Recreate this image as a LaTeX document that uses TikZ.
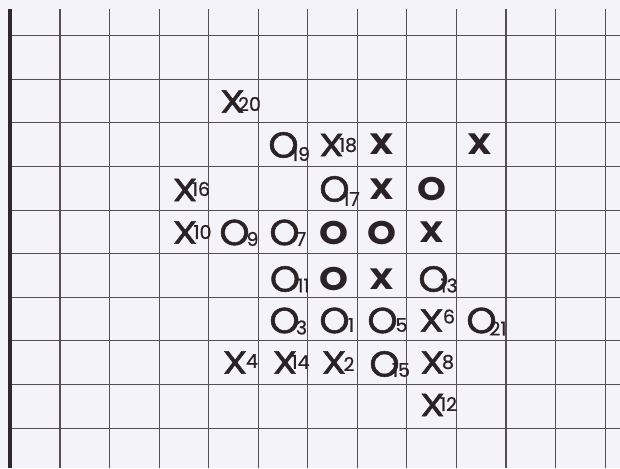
\documentclass[tikz,border=0pt]{standalone}
\usepackage{graphicx}
\usepackage{fontspec}
\setmainfont{Poppins}
\newfontfamily\markfont{Poppins}[FakeBold=1.4]
\newfontfamily\numfont{Poppins}[FakeBold=0.6]
\definecolor{paper}{HTML}{F4F3F9}
\definecolor{gridc}{HTML}{574C59}
\definecolor{borderc}{HTML}{32262E}
\definecolor{ink}{HTML}{2B2226}
\newcommand{\mX}{\scalebox{1.25}[1]{X}}
\newcommand{\mO}{\scalebox{1.2}[1.13]{O}}
\newcommand{\bX}{\scalebox{1.08}[0.92]{X}}
\newcommand{\bO}{\scalebox{1.15}[1.02]{O}}
\begin{document}
\begin{tikzpicture}[x=1pt,y=-1pt,
  gridline/.style={draw=gridc,line width=1.1pt},
  borderline/.style={draw=borderc,line width=4pt},
  mk/.style={inner sep=0pt,text=ink,font=\markfont\fontsize{32}{32}\selectfont},
  bmk/.style={inner sep=0pt,text=ink,font=\fontsize{32}{32}\selectfont\bfseries},
  num/.style={inner sep=0pt,text=ink,font=\numfont\fontsize{19}{19}\selectfont}]
\fill[paper] (0,0) rectangle (620,468);
\useasboundingbox (0,0) rectangle (620,468);
% grid
\foreach \k in {0,...,11} \draw[gridline] ({60+49.55*\k},9) -- ({60+49.55*\k},468);
\foreach \k in {0,...,9} \draw[gridline] (10,{35.7+43.6*\k}) -- (620,{35.7+43.6*\k});
\draw[borderline] (10,9) -- (10,468);
% row 2
\node[mk] (x20) at (232.5,101.5) {\mX};
\node[num] (x20n) at (249.5,104) {20};
% row 3
\node[mk] (o19) at (283.5,145) {\mO};
\node[num] (o19n) at (301,154) {19};
\node[mk] (x18) at (331.5,145) {\mX};
\node[num] (x18n) at (348,145) {18};
\node[bmk] (xa) at (381.5,144) {\bX};
\node[bmk] (xb) at (480,144) {\bX};
% row 4
\node[mk] (x16) at (185,190) {\mX};
\node[num] (x16n) at (201,189) {16};
\node[mk] (o17) at (334.5,189) {\mO};
\node[num] (o17n) at (351.5,199) {17};
\node[bmk] (xc) at (381.5,189) {\bX};
\node[bmk] (oa) at (431.5,189) {\bO};
% row 5
\node[mk] (x10) at (185,232.5) {\mX};
\node[num] (x10n) at (202.5,232) {10};
\node[mk] (o9) at (234.5,232.5) {\mO};
\node[num] (o9n) at (252.5,239) {9};
\node[mk] (o7) at (284.5,232.5) {\mO};
\node[num] (o7n) at (301,239) {7};
\node[bmk] (ob) at (333.5,232.5) {\bO};
\node[bmk] (oc) at (381.5,232.5) {\bO};
\node[bmk] (xd) at (431.5,232.5) {\bX};
% row 6
\node[mk] (o11) at (285,279) {\mO};
\node[num] (o11n) at (303.5,285.5) {11};
\node[bmk] (od) at (333.5,279) {\bO};
\node[bmk] (xe) at (381.5,279) {\bX};
\node[mk] (o13) at (433.5,279) {\mO};
\node[num] (o13n) at (449,285.5) {13};
% row 7
\node[mk] (o3) at (284.5,320.5) {\mO};
\node[num] (o3n) at (301.5,327.5) {3};
\node[mk] (o1) at (334.5,320.5) {\mO};
\node[num] (o1n) at (351,325) {1};
\node[mk] (o5) at (382.5,320.5) {\mO};
\node[num] (o5n) at (401.5,325) {5};
\node[mk] (x6) at (431.5,320.5) {\mX};
\node[num] (x6n) at (449,316.5) {6};
\node[mk] (o21) at (481.5,320.5) {\mO};
\node[num] (o21n) at (498,328.5) {21};
% row 8
\node[mk] (x4) at (235,362.5) {\mX};
\node[num] (x4n) at (252,361) {4};
\node[mk] (x14) at (285,362.5) {\mX};
\node[num] (x14n) at (300.5,362) {14};
\node[mk] (x2) at (334,362.5) {\mX};
\node[num] (x2n) at (349,364) {2};
\node[mk] (o15) at (384.5,364) {\mO};
\node[num] (o15n) at (401,370) {15};
\node[mk] (x8) at (432.5,362.5) {\mX};
\node[num] (x8n) at (448,362) {8};
% row 9
\node[mk] (x12) at (432.5,405) {\mX};
\node[num] (x12n) at (448.5,404) {12};
\end{tikzpicture}
\end{document}
